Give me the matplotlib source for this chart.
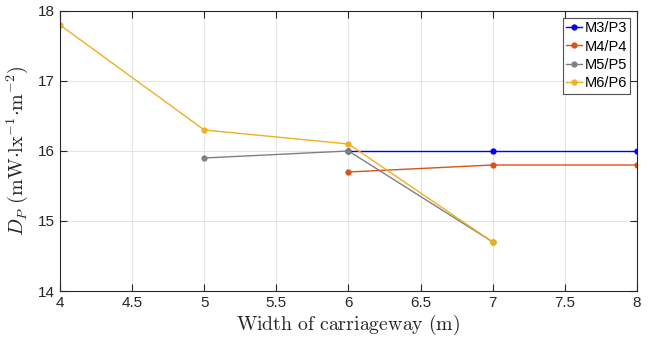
import matplotlib
matplotlib.use("Agg")
import matplotlib.pyplot as plt

m3_x = [6, 7, 8]
m3_y = [16.0, 16.0, 16.0]
m4_x = [6, 7, 8]
m4_y = [15.7, 15.8, 15.8]
m5_x = [5, 6, 7]
m5_y = [15.9, 16.0, 14.7]
m6_x = [4, 5, 6, 7]
m6_y = [17.8, 16.3, 16.1, 14.7]
labels = ["M3/P3", "M4/P4", "M5/P5", "M6/P6"]
colors = ["#0000FF", "#D95319", "#808080", "#EDB120"]

plt.rcParams['font.family'] = ['Liberation Sans', 'DejaVu Sans']
plt.rcParams['mathtext.fontset'] = 'cm'

fig = plt.figure(figsize=(6.54, 3.43), dpi=100)
ax = fig.add_axes([0.0917, 0.1516, 0.8823, 0.8164])

series = [(m3_x, m3_y), (m4_x, m4_y), (m5_x, m5_y), (m6_x, m6_y)]
for (x, y), lab, c in zip(series, labels, colors):
    ax.plot(x, y, '-o', color=c, lw=1.0, ms=3.5, label=lab)

ax.set_xlim(4, 8)
ax.set_ylim(14, 18)
ax.set_xticks([4, 4.5, 5, 5.5, 6, 6.5, 7, 7.5, 8])
ax.set_xticklabels(["4", "4.5", "5", "5.5", "6", "6.5", "7", "7.5", "8"])
ax.set_yticks([14, 15, 16, 17, 18])
ax.grid(True, color='#e3e3e3', lw=0.7)
ax.tick_params(direction='in', labelsize=11, colors='#262626', top=True, right=True, length=5, width=0.8)
for s in ax.spines.values():
    s.set_color('#262626')
    s.set_linewidth(0.8)

ax.set_xlabel(r"$\mathrm{Width\ of\ carriageway\ (m)}$", fontsize=14.3, color='#262626', labelpad=2)
ax.set_ylabel(r"$D_P\ \mathrm{(mW{\cdot}lx^{-1}{\cdot}m^{-2})}$", fontsize=14.5, color='#262626', labelpad=6)

leg = ax.legend(loc='upper right', fontsize=10.5, frameon=True, fancybox=False,
                edgecolor='#262626', handlelength=1.1, handletextpad=0.15,
                borderpad=0.25, labelspacing=0.3, borderaxespad=0.45,
                bbox_to_anchor=(1.0, 1.0))
leg.get_frame().set_linewidth(0.8)

fig.savefig("out.png", dpi=100)
